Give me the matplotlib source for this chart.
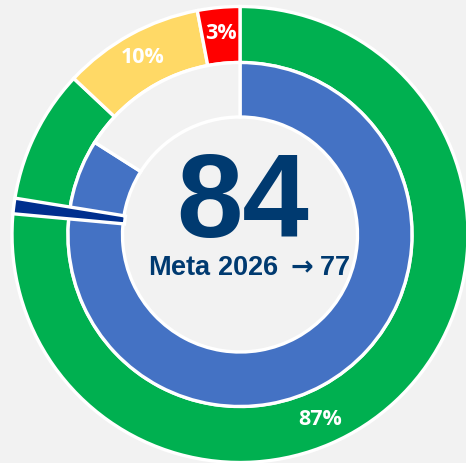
import matplotlib.pyplot as plt

# outer ring: share of results
outer_labels = ['Verde', 'Amarelo', 'Vermelho']
outer_vals = [87, 10, 3]
outer_cols = ['#00b050', '#ffd966', '#ff0000']

# inner ring: current score vs rest
score = 84
target = 77
inner_vals = [score, 100 - score]
inner_cols = ['#4472c4', '#f2f2f2']

marker_w = 1.1  # width of the target marker, in %

bg = '#f2f2f2'
navy = '#003a70'

# bold arrow for the target line
plt.rcParams['mathtext.fontset'] = 'custom'
plt.rcParams['mathtext.it'] = 'DejaVu Sans:bold'
plt.rcParams['mathtext.rm'] = 'DejaVu Sans:bold'

fig = plt.figure(figsize=(4.66, 4.63), dpi=100, facecolor=bg)
ax = fig.add_axes([0, 0, 1, 1])
ax.set_facecolor(bg)

cx, cy = 240, 228.5
R = 228
wedge = dict(edgecolor='white', linewidth=2.4)

# outer ring
w, t, at = ax.pie(outer_vals, radius=R, center=(cx, cy), startangle=90,
                  counterclock=False, colors=outer_cols,
                  wedgeprops=dict(width=56, **wedge),
                  autopct='%d%%', pctdistance=0.885,
                  textprops=dict(color='white', fontsize=15.5,
                                 fontweight='bold', family='Open Sans'))

# inner ring
ax.pie(inner_vals, radius=172, center=(cx, cy), startangle=90,
       counterclock=False, colors=inner_cols,
       wedgeprops=dict(width=54.5, **wedge))

# target marker across both rings
mk = ax.pie([target - marker_w / 2, marker_w, 100 - target - marker_w / 2],
            radius=R, center=(cx, cy), startangle=90, counterclock=False,
            colors=['none', '#002f8e', 'none'],
            wedgeprops=dict(width=R - 116, edgecolor='none', linewidth=0))[0]
mk[1].set_edgecolor('white')
mk[1].set_linewidth(2.4)

# pie() resets the limits, so set them afterwards
ax.set_xlim(0, 466)
ax.set_ylim(0, 463)
ax.set_aspect('equal')
ax.axis('off')

ax.text(243, 463 - 207, str(score), ha='center', va='center',
        fontsize=86, fontweight='bold', color=navy,
        family='Liberation Sans')
ax.text(249, 463 - 268, f'Meta 2026 $\\rightarrow${target}', ha='center',
        va='center', fontsize=19.5, fontweight='bold', color=navy,
        family='Liberation Sans')

fig.savefig('out.png', dpi=100, facecolor=bg)
